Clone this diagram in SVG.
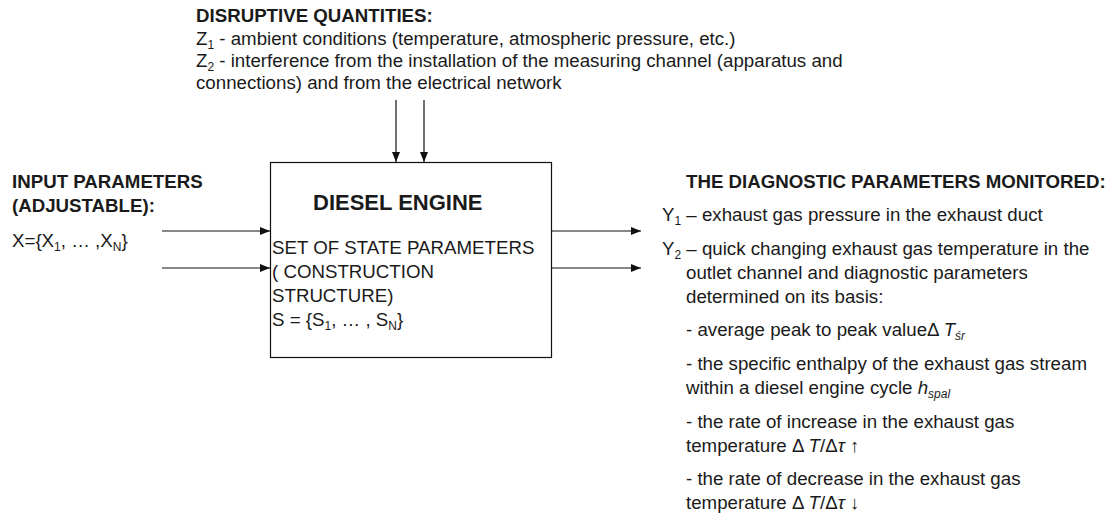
<svg xmlns="http://www.w3.org/2000/svg" width="1115" height="513" viewBox="0 0 1115 513">
<defs>
<marker id="ah" markerWidth="10" markerHeight="8" refX="10" refY="4" orient="auto" markerUnits="userSpaceOnUse">
<path d="M0,0 L10,4 L0,8 Z" fill="#111"/>
</marker>
<style>
text{font-family:"Liberation Sans",Arial,sans-serif;fill:#1a1a1a;font-size:18.7px}
.b{font-weight:bold}
.t{font-size:22px;font-weight:bold}
.sub{font-size:12px}
.it{font-style:italic}
.c{stroke:#111;stroke-width:1.2;fill:none;marker-end:url(#ah)}
</style>
</defs>
<rect width="1115" height="513" fill="#fff"/>
<g id="disruptive">
<text class="b" x="196" y="22">DISRUPTIVE QUANTITIES:</text>
<text x="196" y="45">Z<tspan class="sub" dy="4">1</tspan><tspan dy="-4"> - ambient conditions (temperature, atmospheric pressure, etc.)</tspan></text>
<text x="196" y="67">Z<tspan class="sub" dy="4">2</tspan><tspan dy="-4"> - interference from the installation of the measuring channel (apparatus and</tspan></text>
<text x="196" y="89">connections) and from the electrical network</text>
</g>
<g id="input">
<text class="b" x="12" y="188">INPUT PARAMETERS</text>
<text class="b" x="12" y="212">(ADJUSTABLE):</text>
<text x="12" y="247">X={X<tspan class="sub" dy="4">1</tspan><tspan dy="-4">, … ,X</tspan><tspan class="sub" dy="4">N</tspan><tspan dy="-4">}</tspan></text>
</g>
<g id="engine">
<rect x="270.5" y="162.5" width="281" height="195" fill="#fff" stroke="#111" stroke-width="1.2"/>
<text class="t" x="313" y="210">DIESEL ENGINE</text>
<text x="272" y="254">SET OF STATE PARAMETERS</text>
<text x="272" y="278">( CONSTRUCTION</text>
<text x="272" y="302">STRUCTURE)</text>
<text x="272" y="326">S = {S<tspan class="sub" dy="4">1</tspan><tspan dy="-4">, … , S</tspan><tspan class="sub" dy="4">N</tspan><tspan dy="-4">}</tspan></text>
</g>
<g id="output">
<text class="b" x="686" y="188">THE DIAGNOSTIC PARAMETERS MONITORED:</text>
<text x="662" y="221">Y<tspan class="sub" dy="4">1</tspan><tspan dy="-4"> – exhaust gas pressure in the exhaust duct</tspan></text>
<text x="662" y="255">Y<tspan class="sub" dy="4">2</tspan><tspan dy="-4"> – quick changing exhaust gas temperature in the</tspan></text>
<text x="686" y="279">outlet channel and diagnostic parameters</text>
<text x="686" y="303">determined on its basis:</text>
<text x="686" y="336">- average peak to peak value<tspan>Δ </tspan><tspan class="it">T</tspan><tspan class="sub it" dy="4">śr</tspan></text>
<text x="686" y="370">- the specific enthalpy of the exhaust gas stream</text>
<text x="686" y="394">within a diesel engine cycle <tspan class="it">h</tspan><tspan class="sub it" dy="4">spal</tspan></text>
<text x="686" y="428">- the rate of increase in the exhaust gas</text>
<text x="686" y="452">temperature Δ <tspan class="it">T</tspan>/Δ<tspan class="it">τ</tspan>  ↑</text>
<text x="686" y="485">- the rate of decrease in the exhaust gas</text>
<text x="686" y="509">temperature Δ <tspan class="it">T</tspan>/Δ<tspan class="it">τ</tspan> ↓</text>
</g>
<g id="connectors">
<line class="c" x1="396" y1="100" x2="396" y2="162"/>
<line class="c" x1="424" y1="100" x2="424" y2="162"/>
<line class="c" x1="162" y1="231" x2="270" y2="231"/>
<line class="c" x1="162" y1="268" x2="270" y2="268"/>
<line class="c" x1="552" y1="231" x2="641" y2="231"/>
<line class="c" x1="552" y1="268" x2="641" y2="268"/>
</g>
</svg>
